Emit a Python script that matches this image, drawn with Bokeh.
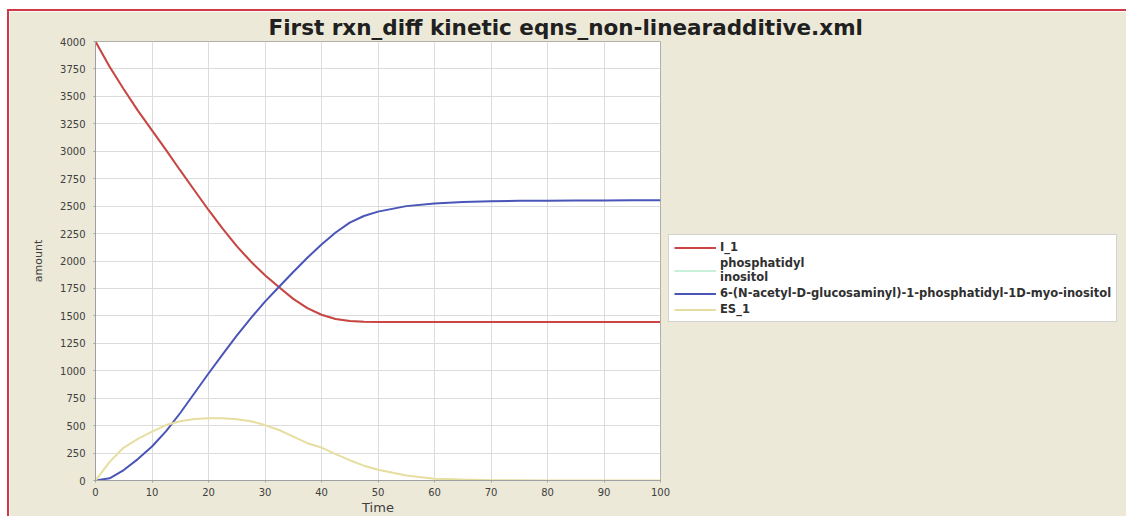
from bokeh.plotting import figure
from bokeh.models import Range1d, Legend, LegendItem, FixedTicker, ColumnDataSource, Title
from bokeh.embed import file_html
from bokeh.resources import INLINE

TITLE = "First rxn_diff kinetic eqns_non-linearadditive.xml"
X_LABEL = "Time"
Y_LABEL = "amount"

x_ticks = [0, 10, 20, 30, 40, 50, 60, 70, 80, 90, 100]
y_ticks = [0, 250, 500, 750, 1000, 1250, 1500, 1750, 2000, 2250, 2500, 2750, 3000, 3250, 3500, 3750, 4000]

time = [0, 2.5, 5, 7.5, 10, 12.5, 15, 17.5, 20, 22.5, 25, 27.5, 30, 32.5, 35, 37.5, 40, 42.5,
        45, 47.5, 50, 55, 60, 65, 70, 75, 80, 85, 90, 95, 100]

i_1 = [4000, 3770, 3565, 3370, 3190, 3010, 2825, 2645, 2465, 2295, 2135, 1995, 1870, 1760, 1655, 1570,
       1510, 1472, 1453, 1447, 1445, 1445, 1445, 1445, 1445, 1445, 1445, 1445, 1445, 1445, 1445]

phosphatidyl_inositol = [4000, 3770, 3565, 3370, 3190, 3010, 2825, 2645, 2465, 2295, 2135, 1995, 1870, 1760,
                         1655, 1570, 1510, 1472, 1453, 1447, 1445, 1445, 1445, 1445, 1445, 1445, 1445, 1445,
                         1445, 1445, 1445]

glcnac_pi = [0, 20, 95, 195, 310, 450, 615, 795, 975, 1150, 1320, 1480, 1630, 1765, 1900, 2030, 2150, 2260,
             2350, 2410, 2450, 2500, 2525, 2538, 2545, 2548, 2550, 2551, 2552, 2553, 2553]

es_1 = [0, 170, 300, 380, 445, 505, 540, 560, 568, 567, 558, 540, 505, 460, 400, 340, 300, 240, 185,
        135, 98, 45, 17, 8, 3, 2, 1, 0, 0, 0, 0]

series_names = ["I_1", "phosphatidyl\ninositol",
                "6-(N-acetyl-D-glucosaminyl)-1-phosphatidyl-1D-myo-inositol", "ES_1"]
series_colors = ["#cc4444", "#c8f0d8", "#4a55b8", "#e6dea0"]

src = ColumnDataSource(dict(t=time, a=i_1, b=phosphatidyl_inositol, c=glcnac_pi, d=es_1))

BG = "#ece9d8"

p = figure(frame_width=565, frame_height=439, output_backend="svg", toolbar_location=None,
           x_range=Range1d(0, 100), y_range=Range1d(0, 4000),
           min_border_left=86, min_border_right=462, min_border_top=30, min_border_bottom=36,
           background_fill_color="white", border_fill_color=BG)
p.styles = {"margin-top": "9px", "margin-left": "7px",
            "border-top": "2px solid #d03848", "border-left": "2px solid #d03848",
            "border-right": "2px solid #d03848"}

p.title = None
t = Title(text=TITLE, align="left", offset=173, text_font="DejaVu Sans", text_font_size="21.5px",
          text_font_style="bold", text_color="#202020", standoff=3)
p.add_layout(t, "above")

p.outline_line_color = "#b0b0a8"

for ax in (p.xaxis[0], p.yaxis[0]):
    ax.axis_line_color = "#a0a0a0"
    ax.major_tick_line_color = "#a0a0a0"
    ax.major_tick_out = 2
    ax.major_tick_in = 0
    ax.minor_tick_line_color = None
    ax.major_label_text_font = "DejaVu Sans"
    ax.major_label_text_font_size = "10px"
    ax.major_label_text_color = "#404040"
    ax.axis_label_text_font = "DejaVu Sans"
    ax.axis_label_text_font_style = "normal"
    ax.axis_label_text_color = "#404040"

p.xaxis.ticker = FixedTicker(ticks=x_ticks)
p.yaxis.ticker = FixedTicker(ticks=y_ticks)
p.xaxis.axis_label = X_LABEL
p.yaxis.axis_label = Y_LABEL
p.xaxis.axis_label_text_font_size = "13px"
p.yaxis.axis_label_text_font_size = "11px"
p.xaxis.axis_label_standoff = 1
p.yaxis.axis_label_standoff = 12
p.xaxis.major_label_standoff = 5
p.yaxis.major_label_standoff = 8

p.xgrid.grid_line_color = "#dcdcdc"
p.ygrid.grid_line_color = "#dcdcdc"

rb = p.line("t", "b", source=src, line_color=series_colors[1], line_width=2)
ra = p.line("t", "a", source=src, line_color=series_colors[0], line_width=2)
rc = p.line("t", "c", source=src, line_color=series_colors[2], line_width=2)
rd = p.line("t", "d", source=src, line_color=series_colors[3], line_width=2)

legend = Legend(items=[LegendItem(label=series_names[0], renderers=[ra]),
                       LegendItem(label=series_names[1], renderers=[rb]),
                       LegendItem(label=series_names[2], renderers=[rc]),
                       LegendItem(label=series_names[3], renderers=[rd])],
                location=(8, 158))
legend.label_text_font = "DejaVu Sans"
legend.label_text_font_size = "11.5px"
legend.label_text_font_style = "bold"
legend.label_text_color = "#303030"
legend.glyph_width = 42
legend.glyph_height = 11
legend.label_height = 11
legend.label_standoff = 4
legend.spacing = 2
legend.padding = 5
legend.margin = 0
legend.border_line_color = "#a8a8a0"
legend.background_fill_color = "white"
legend.background_fill_alpha = 1.0
p.add_layout(legend, "right")

open("out.html", "w").write(file_html(p, INLINE))
